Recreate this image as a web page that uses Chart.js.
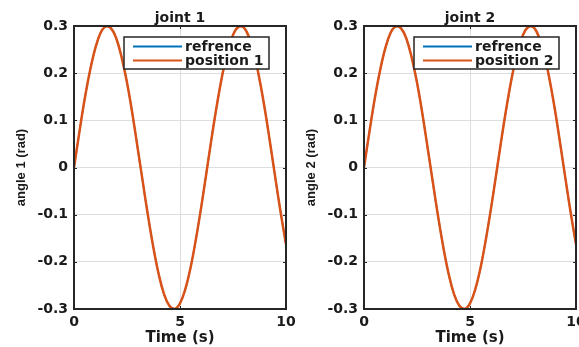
<!DOCTYPE html>
<html>
<head>
<meta charset="utf-8">
<script src="https://cdn.jsdelivr.net/npm/chart.js@4"></script>
<style>
  html, body { margin: 0; padding: 0; background: #ffffff; }
  body { width: 579px; height: 347px; overflow: hidden; position: relative; }
  .panel { position: absolute; top: 0; width: 320px; height: 347px; }
  #p1 { left: 0px; }
  #p2 { left: 290px; }
</style>
</head>
<body>
<div class="panel" id="p1"><canvas id="c1" width="320" height="347"></canvas></div>
<div class="panel" id="p2"><canvas id="c2" width="320" height="347"></canvas></div>
<script>
// ---- data ----
const timeS = [0, 0.25, 0.5, 0.75, 1, 1.25, 1.5, 1.75, 2, 2.25, 2.5, 2.75, 3, 3.25, 3.5, 3.75, 4, 4.25, 4.5, 4.75, 5,
  5.25, 5.5, 5.75, 6, 6.25, 6.5, 6.75, 7, 7.25, 7.5, 7.75, 8, 8.25, 8.5, 8.75, 9, 9.25, 9.5, 9.75, 10];

const joint1Reference = [0, 0.074, 0.144, 0.204, 0.252, 0.285, 0.299, 0.295, 0.273, 0.233, 0.180, 0.115, 0.042, -0.032,
  -0.105, -0.171, -0.227, -0.269, -0.293, -0.300, -0.288, -0.258, -0.212, -0.152, -0.084, -0.010, 0.065, 0.135,
  0.197, 0.247, 0.281, 0.298, 0.297, 0.277, 0.240, 0.187, 0.124, 0.052, -0.023, -0.096, -0.163];
const joint1Position = [0, 0.074, 0.144, 0.204, 0.252, 0.285, 0.299, 0.295, 0.273, 0.233, 0.180, 0.115, 0.042, -0.032,
  -0.105, -0.171, -0.227, -0.269, -0.293, -0.300, -0.288, -0.258, -0.212, -0.152, -0.084, -0.010, 0.065, 0.135,
  0.197, 0.247, 0.281, 0.298, 0.297, 0.277, 0.240, 0.187, 0.124, 0.052, -0.023, -0.096, -0.163];
const joint2Reference = [0, 0.074, 0.144, 0.204, 0.252, 0.285, 0.299, 0.295, 0.273, 0.233, 0.180, 0.115, 0.042, -0.032,
  -0.105, -0.171, -0.227, -0.269, -0.293, -0.300, -0.288, -0.258, -0.212, -0.152, -0.084, -0.010, 0.065, 0.135,
  0.197, 0.247, 0.281, 0.298, 0.297, 0.277, 0.240, 0.187, 0.124, 0.052, -0.023, -0.096, -0.163];
const joint2Position = [0, 0.074, 0.144, 0.204, 0.252, 0.285, 0.299, 0.295, 0.273, 0.233, 0.180, 0.115, 0.042, -0.032,
  -0.105, -0.171, -0.227, -0.269, -0.293, -0.300, -0.288, -0.258, -0.212, -0.152, -0.084, -0.010, 0.065, 0.135,
  0.197, 0.247, 0.281, 0.298, 0.297, 0.277, 0.240, 0.187, 0.124, 0.052, -0.023, -0.096, -0.163];

const xTickValues = [0, 5, 10];
const xTickLabels = ['0', '5', '10'];
const yTickValues = [-0.3, -0.2, -0.1, 0, 0.1, 0.2, 0.3];
const yTickLabels = ['-0.3', '-0.2', '-0.1', '0', '0.1', '0.2', '0.3'];

const panelTitles = ['joint 1', 'joint 2'];
const yAxisTitles = ['angle 1 (rad)', 'angle 2 (rad)'];
const xAxisTitle = 'Time (s)';
const legendLabels = [['refrence', 'position 1'], ['refrence', 'position 2']];

// ---- styles ----
const BLUE = '#0072BD';
const ORANGE = '#D95319';
const FRAME = '#262626';
const GRID = '#dedede';
const BOLD_FONT = 'DejaVu Sans';

function toXY(xs, ys) { return xs.map((x, i) => ({ x: x, y: ys[i] })); }

const decorPlugin = {
  id: 'matlabDecor',
  afterDatasetsDraw(chart, args, opts) {
    const ctx = chart.ctx;
    const a = chart.chartArea;
    const xs = chart.scales.x, ys = chart.scales.y;
    ctx.save();
    // inward tick marks on all four sides
    ctx.strokeStyle = FRAME;
    ctx.lineWidth = 1;
    const tl = 3;
    yTickValues.forEach(v => {
      const py = Math.round(ys.getPixelForValue(v)) + 0.5;
      ctx.beginPath();
      ctx.moveTo(a.left, py); ctx.lineTo(a.left + tl, py);
      ctx.moveTo(a.right, py); ctx.lineTo(a.right - tl, py);
      ctx.stroke();
    });
    xTickValues.forEach(v => {
      const px = Math.round(xs.getPixelForValue(v)) + 0.5;
      ctx.beginPath();
      ctx.moveTo(px, a.top); ctx.lineTo(px, a.top + tl);
      ctx.moveTo(px, a.bottom); ctx.lineTo(px, a.bottom - tl);
      ctx.stroke();
    });
    // box frame
    ctx.lineWidth = 2;
    ctx.strokeRect(a.left, a.top, a.right - a.left, a.bottom - a.top);

    // title
    ctx.fillStyle = '#1a1a1a';
    ctx.font = 'bold 14px "' + BOLD_FONT + '"';
    ctx.textAlign = 'center';
    ctx.textBaseline = 'alphabetic';
    ctx.fillText(opts.title, (a.left + a.right) / 2, 22);

    // legend box
    const bx = a.left + 50, by = a.top + 11, bw = 145, bh = 32;
    ctx.fillStyle = '#ffffff';
    ctx.fillRect(bx, by, bw, bh);
    ctx.lineWidth = 1.5;
    ctx.strokeStyle = FRAME;
    ctx.strokeRect(bx, by, bw, bh);
    const items = chart.data.datasets.map(d => ({ label: d.label, color: d.borderColor }));
    ctx.textAlign = 'left';
    ctx.textBaseline = 'middle';
    ctx.font = 'bold 14px "' + BOLD_FONT + '"';
    items.forEach((it, i) => {
      const ry = by + 9.5 + i * 14;
      ctx.strokeStyle = it.color;
      ctx.lineWidth = 2;
      ctx.beginPath();
      ctx.moveTo(bx + 9, ry); ctx.lineTo(bx + 58, ry);
      ctx.stroke();
      ctx.fillStyle = '#1a1a1a';
      ctx.fillText(it.label, bx + 61, ry + 1);
    });
    ctx.restore();
  }
};

function makeChart(canvasId, idx, refData, posData) {
  return new Chart(document.getElementById(canvasId), {
    type: 'line',
    data: {
      datasets: [
        { label: legendLabels[idx][0], data: toXY(timeS, refData), borderColor: BLUE, borderWidth: 1.5,
          pointRadius: 0, tension: 0.4, fill: false, order: 2 },
        { label: legendLabels[idx][1], data: toXY(timeS, posData), borderColor: ORANGE, borderWidth: 2.5,
          pointRadius: 0, tension: 0.4, fill: false, order: 1 }
      ]
    },
    options: {
      responsive: false,
      animation: false,
      events: [],
      layout: { padding: { top: 26, right: 34, bottom: 0, left: 0 } },
      plugins: {
        legend: { display: false },
        tooltip: { enabled: false },
        title: { display: false },
        matlabDecor: { title: panelTitles[idx] }
      },
      scales: {
        x: {
          type: 'linear', min: 0, max: 10,
          afterBuildTicks: s => { s.ticks = xTickValues.map(v => ({ value: v })); },
          afterFit: s => { s.height = 38; },
          grid: { color: GRID, lineWidth: 1, drawTicks: false },
          border: { display: false },
          ticks: { padding: 5, color: '#1a1a1a', font: { family: BOLD_FONT, size: 14, weight: 'bold' },
            maxRotation: 0, callback: (v, i) => xTickLabels[i] },
          title: { display: true, text: xAxisTitle, color: '#1a1a1a',
            font: { family: BOLD_FONT, size: 15, weight: 'bold' }, padding: { top: 0, bottom: 0 } }
        },
        y: {
          type: 'linear', min: -0.3, max: 0.3,
          afterBuildTicks: s => { s.ticks = yTickValues.map(v => ({ value: v })); },
          afterFit: s => { s.width = 74; },
          grid: { color: GRID, lineWidth: 1, drawTicks: false },
          border: { display: false },
          ticks: { padding: 6, color: '#1a1a1a', font: { family: BOLD_FONT, size: 14, weight: 'bold' },
            callback: (v, i) => yTickLabels[i] },
          title: { display: true, text: yAxisTitles[idx], color: '#1a1a1a',
            font: { family: 'Liberation Sans', size: 13, weight: 'bold' }, padding: { top: 14, bottom: 0 } }
        }
      }
    },
    plugins: [decorPlugin]
  });
}

makeChart('c1', 0, joint1Reference, joint1Position);
makeChart('c2', 1, joint2Reference, joint2Position);
</script>
</body>
</html>
